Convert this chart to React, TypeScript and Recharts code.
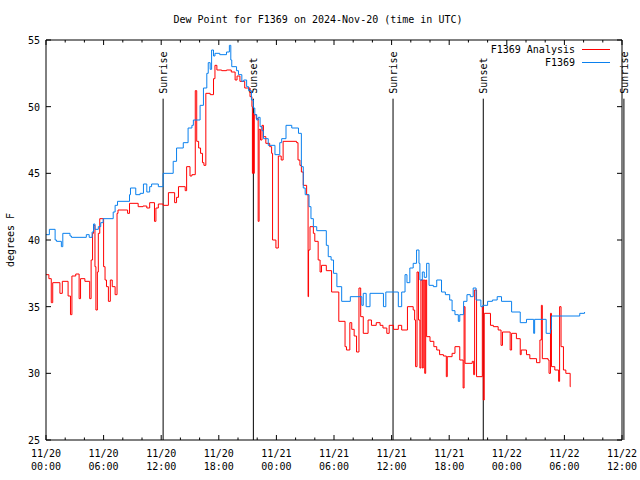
import React from 'react';
import { LineChart, Line, XAxis, YAxis, ReferenceLine } from 'recharts';

// hours since 2024-11-20 00:00 UTC, dew point in degrees F
const analysisPoints: [number, number][] = [
  [0, 37.4], [0.3, 37.1], [0.55, 35.3], [0.7, 36.8], [1.45, 36.0], [1.7, 36.9], [2.3, 35.8], [2.55, 34.4],
  [2.7, 37.3], [3.1, 37.45], [3.45, 35.6], [3.6, 37.1], [4.05, 36.9], [4.55, 35.6], [4.7, 38.5], [4.85, 40.5],
  [4.95, 41.1], [5.1, 38.0], [5.2, 34.75], [5.35, 37.6], [5.45, 40.5], [5.6, 41.6], [6.0, 38.0], [6.15, 37.0],
  [6.3, 36.5], [6.5, 35.4], [6.7, 37.0], [6.9, 36.5], [7.2, 35.9], [7.4, 42.0], [7.5, 42.25], [8.5, 42.0],
  [8.7, 42.75], [9.6, 42.5], [10.1, 42.55], [10.5, 42.4], [10.8, 42.8], [11.3, 41.4], [11.45, 42.4], [11.7, 42.7],
  [12.2, 42.6], [12.75, 43.55], [13.4, 42.8], [13.6, 43.2], [13.8, 44.0], [14.5, 43.7], [14.65, 45.5], [15.0, 44.8],
  [15.2, 44.9], [15.55, 51.2], [15.7, 47.4], [15.9, 46.9], [16.1, 46.5], [16.3, 45.8], [16.45, 45.6], [16.65, 51.0],
  [17.1, 50.9], [17.45, 52.1], [17.6, 53.1], [17.8, 52.75], [18.3, 52.7], [18.8, 52.75], [19.3, 52.6], [19.7, 52.0],
  [19.9, 52.3], [20.2, 51.9], [20.7, 51.4], [21.25, 50.75], [21.45, 50.0], [21.5, 45.0], [21.55, 49.5], [21.62, 45.0],
  [21.7, 49.4], [21.9, 49.1], [22.1, 41.4], [22.2, 48.3], [22.35, 47.5], [22.5, 48.6], [22.65, 47.75], [22.9, 47.25],
  [23.3, 47.0], [23.5, 46.5], [23.6, 40.0], [23.95, 39.4], [24.2, 46.3], [24.5, 46.0], [24.7, 47.4], [26.1, 47.3],
  [26.25, 46.0], [26.45, 45.6], [26.6, 45.1], [26.8, 44.1], [27.15, 43.4], [27.3, 35.75], [27.35, 39.25], [27.5, 41.0],
  [27.85, 40.5], [28.0, 39.9], [28.35, 38.5], [28.55, 37.6], [28.7, 38.1], [29.2, 37.7], [29.75, 36.1], [30.5, 33.9],
  [31.15, 32.0], [31.3, 31.75], [31.65, 33.8], [31.85, 33.3], [32.1, 32.8], [32.35, 31.6], [32.6, 36.4], [32.78, 34.25],
  [33.05, 33.0], [33.55, 34.0], [33.9, 33.6], [34.4, 33.8], [34.8, 33.6], [35.1, 33.4], [35.5, 33.0], [35.75, 33.6],
  [36.2, 33.3], [36.7, 33.6], [37.05, 33.25], [37.65, 35.0], [38.25, 34.75], [38.4, 34.0], [38.5, 30.5], [38.65, 37.6],
  [38.8, 34.0], [38.95, 30.4], [39.05, 37.0], [39.2, 30.4], [39.3, 37.0], [39.45, 30.0], [39.55, 37.0], [39.65, 32.75],
  [40.0, 32.4], [40.4, 32.0], [40.7, 31.75], [41.0, 31.4], [41.4, 31.3], [41.7, 29.75], [41.8, 31.25], [42.3, 31.5],
  [42.6, 32.0], [43.1, 31.0], [43.45, 28.9], [43.55, 35.0], [43.65, 30.75], [44.4, 30.9], [44.55, 29.9], [44.65, 36.25],
  [44.85, 29.75], [45.45, 35.0], [45.55, 28.0], [45.65, 34.5], [46.3, 33.6], [46.6, 33.5], [47.1, 33.25], [47.4, 32.1],
  [47.55, 33.1], [48.35, 31.75], [48.5, 33.0], [49.0, 32.6], [49.4, 31.4], [49.5, 31.75], [50.05, 31.4], [50.4, 31.1],
  [51.1, 30.8], [51.45, 32.5], [51.6, 35.1], [51.7, 31.1], [52.3, 31.0], [52.4, 30.0], [52.55, 34.5], [52.65, 30.5],
  [53.0, 30.25], [53.4, 29.4], [53.5, 35.0], [53.65, 32.0], [53.9, 30.25], [54.15, 30.0], [54.6, 29.0], [54.65, 29.0],
];

const stationPoints: [number, number][] = [
  [0, 40.4], [0.35, 40.8], [0.95, 40.0], [1.1, 39.9], [1.6, 39.5], [1.75, 40.5], [2.5, 40.3], [2.65, 40.2],
  [4.2, 40.4], [4.5, 40.2], [4.8, 40.6], [4.95, 41.2], [5.1, 40.8], [5.45, 41.0], [5.7, 41.3], [5.95, 41.6],
  [7.0, 42.1], [7.2, 42.6], [7.45, 42.9], [8.7, 43.4], [8.8, 43.9], [9.35, 43.4], [9.8, 43.5], [10.15, 44.2],
  [10.5, 43.6], [10.8, 44.0], [11.0, 44.2], [11.7, 44.0], [12.2, 45.0], [13.25, 45.9], [13.6, 46.9], [14.3, 47.3],
  [14.8, 48.4], [15.2, 48.6], [15.35, 49.0], [16.05, 50.1], [16.4, 51.4], [16.75, 52.5], [16.9, 53.3], [17.1, 52.8],
  [17.25, 54.25], [17.45, 53.8], [17.6, 54.0], [18.1, 53.9], [18.8, 54.1], [19.1, 54.6], [19.25, 53.5], [19.35, 53.0],
  [19.85, 52.7], [20.05, 52.4], [20.4, 51.9], [20.6, 52.0], [20.9, 51.5], [21.1, 51.2], [21.4, 50.5], [21.6, 49.9],
  [21.75, 49.4], [21.95, 49.0], [22.1, 49.2], [22.3, 48.5], [22.5, 48.2], [22.65, 47.6], [23.15, 47.1], [23.85, 46.4],
  [24.35, 47.3], [24.55, 47.6], [25.0, 48.6], [25.6, 48.4], [26.3, 48.0], [26.6, 45.5], [26.8, 43.9], [27.0, 43.4],
  [27.4, 42.5], [27.6, 41.6], [27.85, 41.0], [28.2, 40.7], [29.2, 39.6], [29.4, 38.75], [29.7, 38.5], [29.95, 37.5],
  [30.3, 36.5], [30.8, 35.4], [31.7, 35.75], [32.9, 35.1], [33.05, 36.0], [33.35, 35.0], [33.75, 36.0], [35.15, 35.0],
  [35.4, 36.1], [36.7, 35.0], [37.05, 36.1], [37.4, 37.4], [37.6, 36.8], [37.9, 37.9], [38.25, 38.25], [38.6, 39.25],
  [38.85, 38.25], [38.95, 37.0], [39.2, 37.6], [39.4, 37.2], [39.65, 38.25], [39.9, 36.6], [40.35, 36.5], [40.7, 37.0],
  [41.2, 36.1], [41.6, 35.9], [42.05, 35.5], [42.3, 34.7], [42.6, 34.4], [42.95, 33.9], [43.1, 34.4], [43.5, 35.4],
  [43.85, 35.9], [44.2, 35.75], [44.5, 36.4], [44.8, 35.5], [45.3, 35.0], [45.5, 35.1], [46.0, 35.4], [46.5, 35.5],
  [47.0, 35.75], [47.45, 35.4], [48.5, 34.6], [49.4, 33.8], [50.05, 34.05], [50.8, 33.0], [50.9, 34.05], [52.1, 33.0],
  [52.55, 33.3], [52.65, 34.3], [55.6, 34.5], [56.1, 34.6],
];

const sunEvents: [number, string][] = [
  [12.2, 'Sunrise'], [21.6, 'Sunset'], [36.15, 'Sunrise'], [45.55, 'Sunset'], [60.2, 'Sunrise'],
];

const xTicks = [0, 2, 4, 6, 8, 10, 12, 14, 16, 18, 20, 22, 24, 26, 28, 30, 32, 34, 36, 38, 40, 42, 44, 46, 48, 50, 52, 54, 56, 58, 60];
const xMajor = [0, 6, 12, 18, 24, 30, 36, 42, 48, 54, 60];
const xLabels = [
  ['11/20', '00:00'], ['11/20', '06:00'], ['11/20', '12:00'], ['11/20', '18:00'],
  ['11/21', '00:00'], ['11/21', '06:00'], ['11/21', '12:00'], ['11/21', '18:00'],
  ['11/22', '00:00'], ['11/22', '06:00'], ['11/22', '12:00'],
];
const yTicks = [25, 30, 35, 40, 45, 50, 55];

const seriesNames = ['F1369 Analysis', 'F1369'];
const RED = '#ff0000';
const BLUE = '#0a80ee';
const FONT = '"DejaVu Sans Mono", "Liberation Mono", monospace';

const analysisData = analysisPoints.map(([h, v]) => ({ h, v }));
const stationData = stationPoints.map(([h, v]) => ({ h, v }));

function BottomTick({ x, y, payload }: any) {
  const i = xMajor.indexOf(payload.value);
  const major = i >= 0;
  return (
    <g>
      <line x1={x} x2={x} y1={y} y2={y - (major ? 5 : 2.5)} stroke="#000" />
      {major && (
        <text x={x} y={y + 17} textAnchor="middle" fontFamily={FONT} fontSize={10} fill="#000">
          <tspan x={x}>{xLabels[i][0]}</tspan>
          <tspan x={x} dy={13}>{xLabels[i][1]}</tspan>
        </text>
      )}
    </g>
  );
}

function TopTick({ x, y, payload }: any) {
  const major = xMajor.indexOf(payload.value) >= 0;
  return <line x1={x} x2={x} y1={y} y2={y + (major ? 5 : 2.5)} stroke="#000" />;
}

function LeftTick({ x, y, payload }: any) {
  return (
    <g>
      <line x1={x} x2={x + 5} y1={y} y2={y} stroke="#000" />
      <text x={x - 6} y={y} dy={4} textAnchor="end" fontFamily={FONT} fontSize={10} fill="#000">
        {payload.value}
      </text>
    </g>
  );
}

function RightTick({ x, y }: any) {
  return <line x1={x} x2={x - 5} y1={y} y2={y} stroke="#000" />;
}

function SunLabel({ viewBox, text }: any) {
  const x = viewBox.x;
  const y = viewBox.y - 5;
  return (
    <text
      x={x}
      y={y}
      transform={`rotate(-90, ${x}, ${y})`}
      textAnchor="start"
      dy={4}
      fontFamily={FONT}
      fontSize={10}
      fill="#000"
    >
      {text}
    </text>
  );
}

export default function App() {
  return (
    <div style={{ position: 'absolute', left: 0, top: 0, width: 640, height: 480, background: '#fff' }}>
      <LineChart width={640} height={480} margin={{ top: 20, right: 8, bottom: 20, left: 16 }}>
        <XAxis
          xAxisId="bottom"
          type="number"
          dataKey="h"
          domain={[0, 60]}
          ticks={xTicks}
          interval={0}
          height={20}
          tickSize={0}
          tickMargin={0}
          axisLine={{ stroke: '#000' }}
          tickLine={false}
          tick={<BottomTick />}
          allowDataOverflow
        />
        <XAxis
          xAxisId="top"
          orientation="top"
          type="number"
          dataKey="h"
          domain={[0, 60]}
          ticks={xTicks}
          interval={0}
          height={20}
          tickSize={0}
          tickMargin={0}
          axisLine={{ stroke: '#000' }}
          tickLine={false}
          tick={<TopTick />}
          allowDataOverflow
        />
        <YAxis
          yAxisId="left"
          type="number"
          domain={[25, 55]}
          ticks={yTicks}
          interval={0}
          width={30}
          tickSize={0}
          tickMargin={0}
          axisLine={{ stroke: '#000' }}
          tickLine={false}
          tick={<LeftTick />}
          allowDataOverflow
        />
        <YAxis
          yAxisId="right"
          orientation="right"
          type="number"
          domain={[25, 55]}
          ticks={yTicks}
          interval={0}
          width={10}
          tickSize={0}
          tickMargin={0}
          axisLine={{ stroke: '#000' }}
          tickLine={false}
          tick={<RightTick />}
          allowDataOverflow
        />
        {sunEvents.map(([h, name], i) => (
          <ReferenceLine
            key={i}
            xAxisId="bottom"
            yAxisId="left"
            segment={[{ x: h, y: 25 }, { x: h, y: 50.6 }]}
            stroke="#000"
            strokeWidth={1}
            ifOverflow="visible"
            label={<SunLabel text={name} />}
          />
        ))}
        <Line
          xAxisId="bottom"
          yAxisId="left"
          data={analysisData}
          dataKey="v"
          type="stepAfter"
          stroke={RED}
          strokeWidth={1}
          dot={false}
          isAnimationActive={false}
          name={seriesNames[0]}
        />
        <Line
          xAxisId="bottom"
          yAxisId="left"
          data={stationData}
          dataKey="v"
          type="stepAfter"
          stroke={BLUE}
          strokeWidth={1}
          dot={false}
          isAnimationActive={false}
          name={seriesNames[1]}
        />
      </LineChart>
      <svg width={640} height={480} style={{ position: 'absolute', left: 0, top: 0, pointerEvents: 'none' }}>
        <text x={318} y={23} textAnchor="middle" fontFamily={FONT} fontSize={10} fill="#000">
          Dew Point for F1369 on 2024-Nov-20 (time in UTC)
        </text>
        <text x={14} y={240} transform="rotate(-90, 14, 240)" textAnchor="middle" fontFamily={FONT} fontSize={10} fill="#000">
          degrees F
        </text>
        <text x={575} y={53} textAnchor="end" fontFamily={FONT} fontSize={10} fill="#000">{seriesNames[0]}</text>
        <line x1={582} x2={610} y1={49.5} y2={49.5} stroke={RED} strokeWidth={1} />
        <text x={575} y={66} textAnchor="end" fontFamily={FONT} fontSize={10} fill="#000">{seriesNames[1]}</text>
        <line x1={582} x2={610} y1={62.5} y2={62.5} stroke={BLUE} strokeWidth={1} />
      </svg>
    </div>
  );
}
